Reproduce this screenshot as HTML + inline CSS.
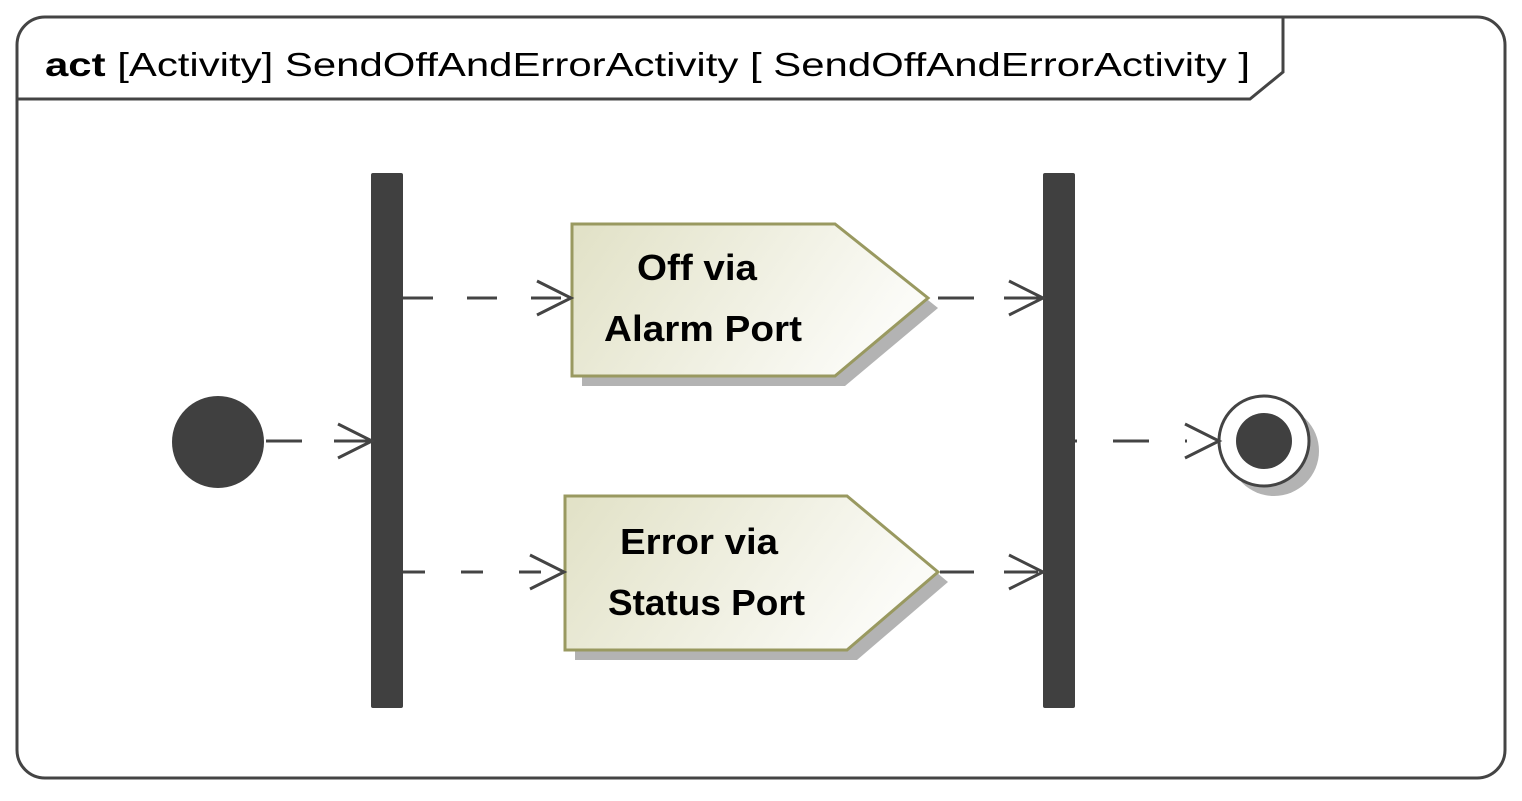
<!DOCTYPE html>
<html><head><style>html,body{margin:0;padding:0;background:#fff;}</style></head>
<body>
<svg width="1522" height="796" xmlns="http://www.w3.org/2000/svg" font-family="Liberation Sans, sans-serif">
<defs>
<linearGradient id="g" x1="0" y1="0" x2="1" y2="0.3">
<stop offset="0" stop-color="#e1e1c6"/><stop offset="1" stop-color="#fbfbf7"/>
</linearGradient>
</defs>
<rect x="17" y="17" width="1488" height="761" rx="28" ry="28" fill="#fff" stroke="#444" stroke-width="3"/>
<path d="M17 99 H1250 L1283 72 V17" fill="none" stroke="#444" stroke-width="3"/>
<text x="45" y="76" font-size="33" fill="#000" textLength="1205" lengthAdjust="spacingAndGlyphs"><tspan font-weight="bold">act</tspan> [Activity] SendOffAndErrorActivity [ SendOffAndErrorActivity  ]</text>

<rect x="371" y="173" width="32" height="535" rx="2" fill="#404040"/>
<rect x="1043" y="173" width="32" height="535" rx="2" fill="#404040"/>

<circle cx="218" cy="442" r="46" fill="#404040"/>
<circle cx="1274" cy="451" r="45" fill="#b3b3b3"/>
<circle cx="1264" cy="441" r="45" fill="#fff" stroke="#444" stroke-width="3"/>
<circle cx="1264" cy="441" r="28" fill="#404040"/>

<path d="M582 234 H845 L938 308 L845 386 H582 Z" fill="#b3b3b3"/>
<path d="M572 224 H835 L928 298 L835 376 H572 Z" fill="url(#g)" stroke="#999960" stroke-width="3"/>
<text font-size="36" font-weight="bold" fill="#000"><tspan x="637" y="280" textLength="120" lengthAdjust="spacingAndGlyphs">Off via</tspan><tspan x="604" y="341" textLength="198" lengthAdjust="spacingAndGlyphs">Alarm Port</tspan></text>
<path d="M575 506 H857 L948 582 L857 660 H575 Z" fill="#b3b3b3"/>
<path d="M565 496 H847 L938 572 L847 650 H565 Z" fill="url(#g)" stroke="#999960" stroke-width="3"/>
<text font-size="36" font-weight="bold" fill="#000"><tspan x="620" y="554" textLength="158" lengthAdjust="spacingAndGlyphs">Error via</tspan><tspan x="608" y="615" textLength="197" lengthAdjust="spacingAndGlyphs">Status Port</tspan></text>

<g stroke="#444" stroke-width="3" fill="none">
<path d="M266 441 H372" stroke-dasharray="36 32"/>
<path d="M338 424 L372 441 L338 458"/>
<path d="M403 298 H570" stroke-dasharray="30 34"/>
<path d="M537 281 L571 298 L537 315"/>
<path d="M403 572 H563" stroke-dasharray="22 36"/>
<path d="M530 555 L564 572 L530 589"/>
<path d="M938 298 H1043" stroke-dasharray="36 30"/>
<path d="M1009 281 L1043 298 L1009 315"/>
<path d="M940 572 H1043" stroke-dasharray="34 30"/>
<path d="M1009 555 L1043 572 L1009 589"/>
<path d="M1075 441 H1218" stroke-dasharray="2 36 36 36"/>
<path d="M1185 424 L1219 441 L1185 458"/>
</g>
</svg>
</body></html>
